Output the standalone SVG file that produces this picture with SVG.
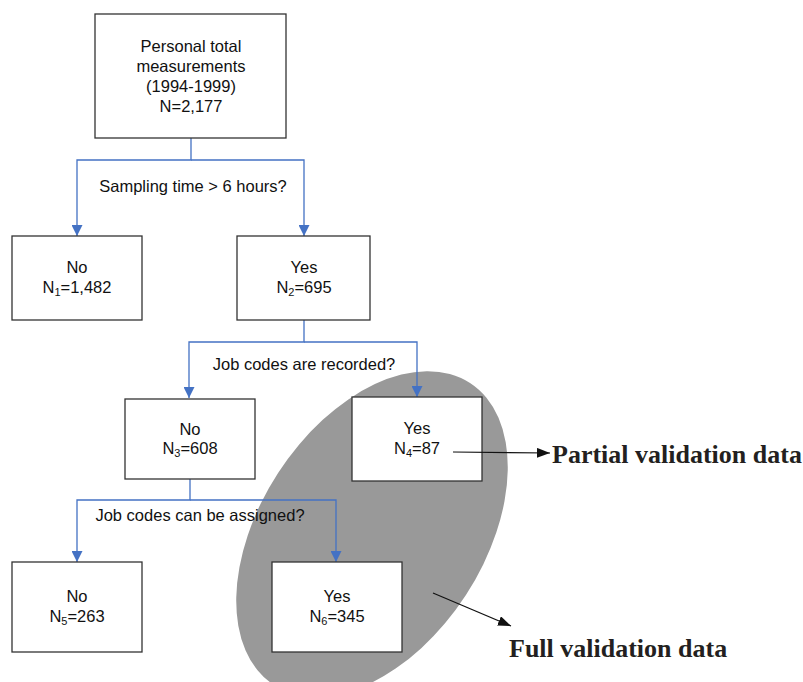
<svg xmlns="http://www.w3.org/2000/svg" width="803" height="682" viewBox="0 0 803 682">
<defs>
<style>
.box{fill:#fff;stroke:#333;stroke-width:1.3}
.t{font-family:"Liberation Sans",Arial,sans-serif;font-size:16.5px;fill:#111;text-anchor:middle}
.sub{font-size:11px}
.con{fill:none;stroke:#4472C4;stroke-width:1.3}
.blk{fill:none;stroke:#111;stroke-width:1.2}
.big{font-family:"Liberation Serif","Times New Roman",serif;font-size:26px;font-weight:bold;fill:#231f20}
</style>
<marker id="ab" markerUnits="userSpaceOnUse" markerWidth="11" markerHeight="11" refX="11" refY="5.5" orient="auto">
<path d="M0,0 L11,5.5 L0,11 z" fill="#4472C4"/>
</marker>
<marker id="ak" markerUnits="userSpaceOnUse" markerWidth="13" markerHeight="10" refX="13" refY="5" orient="auto">
<path d="M0,0 L13,5 L0,10 z" fill="#111"/>
</marker>
</defs>
<ellipse id="highlight" cx="372" cy="534" rx="112" ry="180" transform="rotate(33 372 534)" fill="#999999"/>
<g id="connectors">
<path class="con" d="M191,138 V160 H77 V236" marker-end="url(#ab)"/>
<path class="con" d="M191,160 H304 V236" marker-end="url(#ab)"/>
<path class="con" d="M304,320 V342 H189 V398" marker-end="url(#ab)"/>
<path class="con" d="M304,342 H417 V397" marker-end="url(#ab)"/>
<path class="con" d="M190,479 V500 H77 V562" marker-end="url(#ab)"/>
<path class="con" d="M190,500 H336 V562" marker-end="url(#ab)"/>
</g>
<g id="labels">
<text class="t" x="193" y="192">Sampling time &gt; 6 hours?</text>
<text class="t" x="304" y="370">Job codes are recorded?</text>
<text class="t" x="200" y="521">Job codes can be assigned?</text>
</g>
<g id="root">
<rect class="box" x="95" y="14" width="191" height="124"/>
<text class="t" x="191" y="51.5">Personal total</text>
<text class="t" x="191" y="71.5">measurements</text>
<text class="t" x="191" y="91.5">(1994-1999)</text>
<text class="t" x="191" y="111.5">N=2,177</text>
</g>
<g id="n1">
<rect class="box" x="12" y="236" width="130" height="84"/>
<text class="t" x="77" y="273">No</text>
<text class="t" x="77" y="293">N<tspan class="sub" dy="3">1</tspan><tspan dy="-3">=1,482</tspan></text>
</g>
<g id="n2">
<rect class="box" x="237" y="236" width="133" height="84"/>
<text class="t" x="304" y="273">Yes</text>
<text class="t" x="304" y="293">N<tspan class="sub" dy="3">2</tspan><tspan dy="-3">=695</tspan></text>
</g>
<g id="n3">
<rect class="box" x="125" y="399" width="130" height="80"/>
<text class="t" x="190" y="435">No</text>
<text class="t" x="190" y="454">N<tspan class="sub" dy="3">3</tspan><tspan dy="-3">=608</tspan></text>
</g>
<g id="n4">
<rect class="box" x="352" y="397" width="130" height="84"/>
<text class="t" x="417" y="434">Yes</text>
<text class="t" x="417" y="454">N<tspan class="sub" dy="3">4</tspan><tspan dy="-3">=87</tspan></text>
</g>
<g id="n5">
<rect class="box" x="12" y="562" width="130" height="90"/>
<text class="t" x="77" y="602">No</text>
<text class="t" x="77" y="622">N<tspan class="sub" dy="3">5</tspan><tspan dy="-3">=263</tspan></text>
</g>
<g id="n6">
<rect class="box" x="272" y="562" width="130" height="90"/>
<text class="t" x="337" y="602">Yes</text>
<text class="t" x="337" y="622">N<tspan class="sub" dy="3">6</tspan><tspan dy="-3">=345</tspan></text>
</g>
<g id="callouts">
<path class="blk" d="M453,452 L550,453" marker-end="url(#ak)"/>
<path class="blk" d="M433,593 L511,626" marker-end="url(#ak)"/>
<text class="big" x="552" y="463">Partial validation data</text>
<text class="big" x="509" y="657">Full validation data</text>
</g>
</svg>
